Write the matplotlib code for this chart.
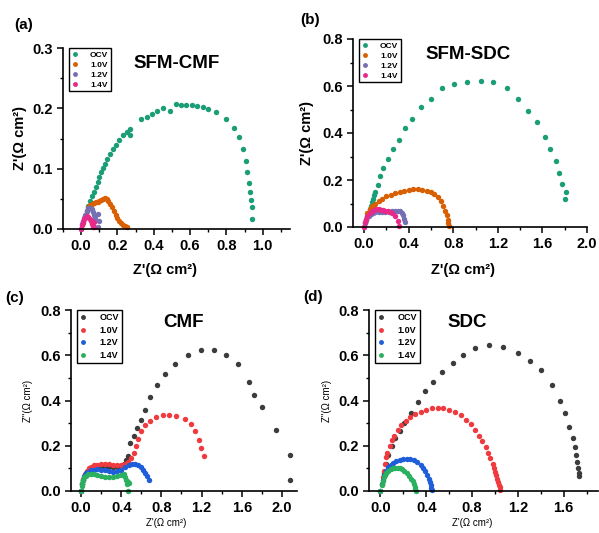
import matplotlib
matplotlib.use('Agg')
import matplotlib.pyplot as plt
from matplotlib.ticker import MultipleLocator

plt.rcParams['font.family'] = ['Liberation Sans', 'DejaVu Sans']
plt.rcParams['font.weight'] = 'bold'

labels = ['OCV', '1.0V', '1.2V', '1.4V']

# (a) SFM-CMF
a_ocv_x = [0.02, 0.03, 0.04, 0.05, 0.06, 0.07, 0.08, 0.09, 0.10, 0.11, 0.12, 0.13, 0.145, 0.16, 0.175,
           0.19, 0.21, 0.23, 0.25, 0.27, 0.27, 0.33, 0.36, 0.39, 0.42, 0.45, 0.49, 0.52, 0.55, 0.58,
           0.61, 0.64, 0.67, 0.70, 0.74, 0.80, 0.84, 0.87, 0.89, 0.905, 0.915, 0.925, 0.93, 0.935, 0.94, 0.94]
a_ocv_y = [0.02, 0.03, 0.038, 0.046, 0.054, 0.062, 0.07, 0.078, 0.086, 0.094, 0.101, 0.108, 0.116, 0.124, 0.132,
           0.14, 0.148, 0.155, 0.16, 0.165, 0.156, 0.182, 0.186, 0.191, 0.195, 0.2, 0.196, 0.207, 0.206, 0.205,
           0.205, 0.204, 0.202, 0.199, 0.194, 0.183, 0.167, 0.152, 0.132, 0.112, 0.094, 0.077, 0.062, 0.048, 0.036, 0.017]
a_v10_x = [0.01, 0.02, 0.03, 0.04, 0.05, 0.06, 0.07, 0.08, 0.09, 0.10, 0.11, 0.12, 0.13, 0.14, 0.15,
           0.16, 0.17, 0.18, 0.19, 0.20, 0.21, 0.22, 0.23, 0.24, 0.25]
a_v10_y = [0.01, 0.022, 0.03, 0.036, 0.04, 0.042, 0.043, 0.044, 0.045, 0.046, 0.048, 0.05, 0.051, 0.05, 0.047,
           0.042, 0.036, 0.03, 0.024, 0.018, 0.013, 0.01, 0.007, 0.005, 0.003]
a_v12_x = [0.0, 0.005, 0.01, 0.015, 0.02, 0.03, 0.04, 0.05, 0.06, 0.065, 0.07, 0.075, 0.09, 0.1, 0.09]
a_v12_y = [0.0, 0.008, 0.014, 0.019, 0.024, 0.03, 0.034, 0.035, 0.033, 0.029, 0.024, 0.019, 0.025, 0.014, 0.004]
a_v14_x = [0.0, 0.005, 0.01, 0.015, 0.02, 0.03, 0.04, 0.05, 0.055, 0.06, 0.065, 0.07, 0.07]
a_v14_y = [0.0, 0.007, 0.012, 0.016, 0.019, 0.021, 0.02, 0.017, 0.013, 0.009, 0.004, 0.012, 0.003]

# (b) SFM-SDC
b_ocv_x = [0.01, 0.02, 0.03, 0.04, 0.05, 0.06, 0.07, 0.08, 0.09, 0.10, 0.12, 0.14, 0.17, 0.21, 0.26,
           0.31, 0.37, 0.43, 0.51, 0.60, 0.70, 0.81, 0.92, 1.05, 1.16, 1.28, 1.38, 1.47, 1.55, 1.62,
           1.67, 1.72, 1.75, 1.78, 1.81, 1.80]
b_ocv_y = [0.015, 0.03, 0.045, 0.06, 0.075, 0.09, 0.105, 0.12, 0.135, 0.15, 0.18, 0.215, 0.25, 0.29, 0.33,
           0.37, 0.42, 0.46, 0.51, 0.545, 0.59, 0.61, 0.615, 0.62, 0.615, 0.59, 0.545, 0.495, 0.445, 0.385,
           0.33, 0.28, 0.23, 0.185, 0.15, 0.12]
b_v10_x = [0.03, 0.05, 0.07, 0.1, 0.13, 0.16, 0.2, 0.24, 0.28, 0.32, 0.36, 0.4, 0.44, 0.48, 0.52,
           0.56, 0.6, 0.63, 0.66, 0.69, 0.71, 0.73, 0.74, 0.75, 0.755, 0.76]
b_v10_y = [0.06, 0.075, 0.088, 0.1, 0.11, 0.12, 0.13, 0.138, 0.145, 0.15, 0.155, 0.158, 0.16, 0.16, 0.158,
           0.155, 0.148, 0.14, 0.128, 0.11, 0.09, 0.07, 0.05, 0.03, 0.015, 0.003]
b_v12_x = [0.0, 0.01, 0.02, 0.04, 0.06, 0.08, 0.1, 0.13, 0.16, 0.19, 0.22, 0.25, 0.28, 0.3, 0.32,
           0.34, 0.35, 0.36, 0.37]
b_v12_y = [0.0, 0.015, 0.03, 0.045, 0.055, 0.06, 0.063, 0.064, 0.064, 0.064, 0.065, 0.067, 0.068, 0.068, 0.066,
           0.06, 0.05, 0.035, 0.02]
b_v14_x = [0.0, 0.01, 0.02, 0.03, 0.05, 0.07, 0.09, 0.11, 0.13, 0.15, 0.17, 0.19, 0.21, 0.23, 0.25,
           0.28, 0.3, 0.31]
b_v14_y = [0.0, 0.02, 0.035, 0.048, 0.06, 0.068, 0.073, 0.075, 0.075, 0.074, 0.072, 0.07, 0.067, 0.063, 0.058,
           0.045, 0.025, 0.005]

# (c) CMF
c_ocv_x = [0.0, 0.01, 0.02, 0.04, 0.06, 0.08, 0.1, 0.13, 0.16, 0.2, 0.24, 0.28, 0.32, 0.36, 0.4,
           0.43, 0.45, 0.47, 0.49, 0.53, 0.56, 0.6, 0.64, 0.69, 0.76, 0.84, 0.94, 1.06, 1.19, 1.32,
           1.44, 1.56, 1.67, 1.72, 1.8, 1.94, 2.08, 2.08]
c_ocv_y = [0.0, 0.03, 0.05, 0.07, 0.085, 0.095, 0.1, 0.105, 0.108, 0.108, 0.106, 0.104, 0.104, 0.106, 0.11,
           0.12, 0.135, 0.155, 0.21, 0.245, 0.28, 0.315, 0.36, 0.415, 0.47, 0.515, 0.56, 0.6, 0.625, 0.622,
           0.6, 0.56, 0.48, 0.425, 0.37, 0.27, 0.158, 0.048]
c_v10_x = [0.0, 0.01, 0.02, 0.04, 0.06, 0.08, 0.1, 0.13, 0.16, 0.2, 0.24, 0.28, 0.32, 0.36, 0.4,
           0.44, 0.47, 0.5, 0.53, 0.55, 0.57, 0.6, 0.64, 0.69, 0.75, 0.82, 0.88, 0.95, 1.03, 1.09,
           1.13, 1.17, 1.19, 1.22]
c_v10_y = [0.0, 0.03, 0.055, 0.075, 0.09, 0.1, 0.107, 0.113, 0.117, 0.12, 0.12, 0.118, 0.115, 0.113, 0.115,
           0.12, 0.13, 0.145, 0.17, 0.2, 0.23, 0.265, 0.29, 0.31, 0.325, 0.335, 0.338, 0.333, 0.32, 0.295,
           0.265, 0.225, 0.19, 0.155]
c_v12_x = [0.0, 0.01, 0.02, 0.03, 0.05, 0.07, 0.1, 0.13, 0.16, 0.2, 0.24, 0.28, 0.32, 0.36, 0.4,
           0.44, 0.48, 0.51, 0.54, 0.57, 0.6, 0.62, 0.64, 0.66, 0.68]
c_v12_y = [0.0, 0.03, 0.05, 0.065, 0.078, 0.086, 0.092, 0.095, 0.096, 0.095, 0.092, 0.088, 0.086, 0.088, 0.095,
           0.105, 0.115, 0.12, 0.12, 0.115, 0.105, 0.095, 0.08, 0.065, 0.048]
c_v14_x = [0.0, 0.005, 0.01, 0.02, 0.03, 0.05, 0.07, 0.1, 0.13, 0.16, 0.2, 0.24, 0.28, 0.32, 0.36,
           0.4, 0.43, 0.44, 0.45, 0.46, 0.47, 0.48, 0.46, 0.47]
c_v14_y = [0.0, 0.02, 0.035, 0.05, 0.06, 0.068, 0.073, 0.075, 0.073, 0.07, 0.066, 0.063, 0.062, 0.063, 0.066,
           0.07, 0.075, 0.06, 0.05, 0.045, 0.04, 0.035, 0.03, 0.0]

# (d) SDC
d_ocv_x = [0.03, 0.05, 0.07, 0.1, 0.13, 0.17, 0.21, 0.27, 0.33, 0.39, 0.46, 0.54, 0.63, 0.72, 0.83,
           0.95, 1.07, 1.2, 1.31, 1.4, 1.5, 1.57, 1.61, 1.65, 1.68, 1.7, 1.71, 1.72, 1.725, 1.73, 1.73]
d_ocv_y = [0.08, 0.12, 0.16, 0.2, 0.235, 0.265, 0.3, 0.345, 0.395, 0.44, 0.48, 0.525, 0.565, 0.6, 0.63,
           0.645, 0.638, 0.61, 0.575, 0.535, 0.47, 0.4, 0.345, 0.285, 0.235, 0.195, 0.16, 0.13, 0.1, 0.08, 0.065]
d_v10_x = [0.0, 0.01, 0.02, 0.03, 0.04, 0.05, 0.06, 0.08, 0.1, 0.12, 0.15, 0.18, 0.22, 0.26, 0.3,
           0.35, 0.4, 0.45, 0.5, 0.55, 0.6, 0.65, 0.7, 0.75, 0.79, 0.83, 0.86, 0.89, 0.92, 0.94,
           0.96, 0.98, 0.99, 1.0, 1.01, 1.02, 1.03, 1.035, 1.04, 1.04]
d_v10_y = [0.0, 0.03, 0.06, 0.09, 0.12, 0.15, 0.17, 0.2, 0.225, 0.245, 0.27, 0.29, 0.31, 0.325, 0.34,
           0.35, 0.36, 0.365, 0.367, 0.366, 0.36, 0.35, 0.335, 0.315, 0.295, 0.27, 0.245, 0.22, 0.195, 0.17,
           0.145, 0.12, 0.1, 0.085, 0.07, 0.055, 0.04, 0.028, 0.016, 0.005]
d_v12_x = [0.0, 0.01, 0.02, 0.03, 0.05, 0.07, 0.09, 0.11, 0.14, 0.17, 0.2, 0.23, 0.26, 0.29, 0.32,
           0.35, 0.37, 0.39, 0.41, 0.42, 0.43, 0.44, 0.445, 0.45]
d_v12_y = [0.0, 0.03, 0.05, 0.07, 0.09, 0.105, 0.115, 0.123, 0.131, 0.137, 0.14, 0.141, 0.14, 0.136, 0.128,
           0.115, 0.103, 0.088, 0.07, 0.055, 0.04, 0.025, 0.012, 0.003]
d_v14_x = [0.0, 0.01, 0.02, 0.03, 0.04, 0.05, 0.07, 0.09, 0.11, 0.13, 0.15, 0.17, 0.19, 0.21, 0.23,
           0.25, 0.27, 0.28, 0.29, 0.3, 0.305, 0.31]
d_v14_y = [0.0, 0.025, 0.045, 0.06, 0.072, 0.08, 0.09, 0.097, 0.1, 0.102, 0.102, 0.1, 0.096, 0.09, 0.08,
           0.068, 0.052, 0.042, 0.03, 0.018, 0.008, 0.002]

colors_top = ['#1b9e77', '#d95f02', '#7570b3', '#e7298a']
colors_bot = ['#3c3c3c', '#ef3b3f', '#1e5fd9', '#2bb060']

fig = plt.figure(figsize=(5.99, 5.33), dpi=100)
W, H = 599, 533


def make_ax(l, r, t, b):
    return fig.add_axes([l / W, 1 - b / H, (r - l) / W, (b - t) / H])


def draw(ax, series, colors, xlim, ylim, xmaj, ymaj, title, tpos, legfs, legsp):
    for (x, y), c, lab in zip(series, colors, labels):
        ax.plot(x, y, 'o', color=c, ms=3.9, mew=0, label=lab, clip_on=False)
    ax.set_xlim(*xlim)
    ax.set_ylim(*ylim)
    ax.xaxis.set_major_locator(MultipleLocator(xmaj))
    ax.xaxis.set_minor_locator(MultipleLocator(xmaj / 2))
    ax.yaxis.set_major_locator(MultipleLocator(ymaj))
    ax.yaxis.set_minor_locator(MultipleLocator(ymaj / 2))
    ax.spines['top'].set_visible(False)
    ax.spines['right'].set_visible(False)
    for s in ['left', 'bottom']:
        ax.spines[s].set_linewidth(1.2)
    ax.tick_params(which='major', direction='out', length=4, width=1.1, labelsize=10.5)
    ax.tick_params(which='minor', direction='out', length=2.2, width=1.0)
    for lab in ax.get_xticklabels() + ax.get_yticklabels():
        lab.set_fontweight('bold')
    ax.text(tpos[0], tpos[1], title, transform=ax.transAxes, ha='center', va='center',
            fontsize=13.5, fontweight='bold')
    leg = ax.legend(loc='upper left', bbox_to_anchor=(0.025, 1.0), borderaxespad=0,
                    prop={'weight': 'bold', 'size': legfs}, frameon=True, fancybox=False,
                    edgecolor='black', framealpha=1, handlelength=0.8, handletextpad=1.4,
                    labelspacing=legsp, borderpad=0.35, markerscale=0.9)
    leg.get_frame().set_linewidth(1.0)


# (a)
ax = make_ax(63, 290, 48, 229)
draw(ax, [(a_ocv_x, a_ocv_y), (a_v10_x, a_v10_y), (a_v12_x, a_v12_y), (a_v14_x, a_v14_y)],
     colors_top, (-0.1, 1.15), (0, 0.3), 0.2, 0.1, 'SFM-CMF', (0.5, 0.915), 6, 0.25)
ax.set_xlabel("Z'(Ω cm²)", fontsize=10.5, fontweight='bold')
ax.set_ylabel("Z'(Ω cm²)", fontsize=10.5, fontweight='bold')
ax.xaxis.set_label_coords(0.45, -0.19)
ax.yaxis.set_label_coords(-0.16, 0.5)

# (b)
ax = make_ax(353, 587, 39, 227)
draw(ax, [(b_ocv_x, b_ocv_y), (b_v10_x, b_v10_y), (b_v12_x, b_v12_y), (b_v14_x, b_v14_y)],
     colors_top, (-0.1, 2.0), (0, 0.8), 0.4, 0.2, 'SFM-SDC', (0.49, 0.915), 6, 0.25)
ax.set_xlabel("Z'(Ω cm²)", fontsize=10.5, fontweight='bold')
ax.set_ylabel("Z'(Ω cm²)", fontsize=10.5, fontweight='bold')
ax.xaxis.set_label_coords(0.47, -0.19)
ax.yaxis.set_label_coords(-0.165, 0.5)

# (c)
ax = make_ax(71, 297, 310, 491)
draw(ax, [(c_ocv_x, c_ocv_y), (c_v10_x, c_v10_y), (c_v12_x, c_v12_y), (c_v14_x, c_v14_y)],
     colors_bot, (-0.1, 2.15), (0, 0.8), 0.4, 0.2, 'CMF', (0.5, 0.93), 6.5, 0.4)
ax.set_xlabel("Z'(Ω cm²)", fontsize=7, fontweight='normal')
ax.set_ylabel("Z''(Ω cm²)", fontsize=7, fontweight='normal')
ax.xaxis.set_label_coords(0.42, -0.15)
ax.yaxis.set_label_coords(-0.17, 0.5)

# (d)
ax = make_ax(369, 598, 310, 491)
draw(ax, [(d_ocv_x, d_ocv_y), (d_v10_x, d_v10_y), (d_v12_x, d_v12_y), (d_v14_x, d_v14_y)],
     colors_bot, (-0.1, 1.9), (0, 0.8), 0.4, 0.2, 'SDC', (0.43, 0.93), 6.5, 0.4)
ax.set_xlabel("Z'(Ω cm²)", fontsize=7, fontweight='normal')
ax.set_ylabel("Z''(Ω cm²)", fontsize=7, fontweight='normal')
ax.xaxis.set_label_coords(0.45, -0.15)
ax.yaxis.set_label_coords(-0.16, 0.5)

# panel letters
for txt, px, py in [('(a)', 14, 25), ('(b)', 300, 20), ('(c)', 5, 298), ('(d)', 303, 297)]:
    fig.text(px / W, 1 - py / H, txt, fontsize=11, fontweight='bold', ha='left', va='center')

fig.savefig('out.png', dpi=100)
